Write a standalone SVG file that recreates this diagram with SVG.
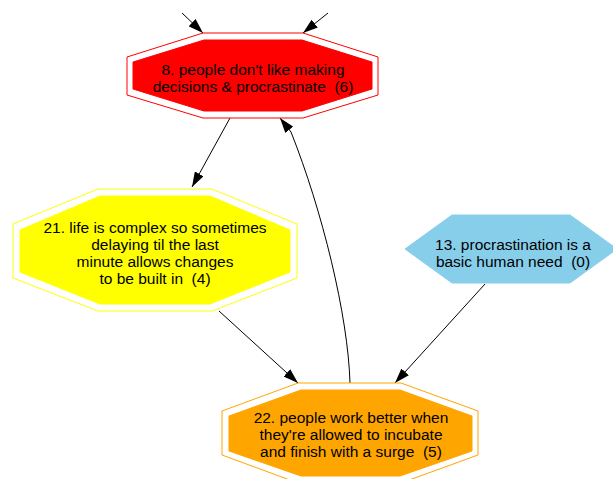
<svg xmlns="http://www.w3.org/2000/svg" width="613" height="479" viewBox="0 0 613 479">
  <style>
    .bg { fill: #ffffff; }
    .lbl { font-family: "Liberation Sans", Arial, sans-serif; font-size: 15.5px; fill: #000000; text-anchor: middle; }
    .edge { fill: none; stroke: #000000; stroke-width: 1; marker-end: url(#arrow); }
    .ring { fill: none; stroke-width: 1; }
  </style>
  <defs>
    <marker id="arrow" markerUnits="userSpaceOnUse" markerWidth="15" markerHeight="10" refX="15" refY="5" orient="auto">
      <path d="M0,0 L15,5 L0,10 Z" fill="#000000"/>
    </marker>
  </defs>

  <rect class="bg" x="0" y="0" width="613" height="479"/>

  <!-- connectors -->
  <g id="edges">
    <path class="edge" d="M182,13 L203,33"/>
    <path class="edge" d="M328,13 L303,33"/>
    <path class="edge" d="M230,118 L192,187"/>
    <path class="edge" d="M219,311 L298,383"/>
    <path class="edge" d="M485,284 L395,383"/>
    <path class="edge" d="M350,383 C348,315 322,210 291,132 L280,118"/>
  </g>

  <!-- node 8 -->
  <g id="node8">
    <polygon class="ring" stroke="#ff0000" points="203,33 303,33 378,57 378,95 303,118 203,118 127,95 127,57"/>
    <polygon fill="#ff0000" stroke="#ff0000" points="204,40 302,40 372,62 372,89 302,111 204,111 133,89 133,62"/>
    <text class="lbl" x="253" y="75">8. people don't like making</text>
    <text class="lbl" x="253" y="92">decisions &amp; procrastinate&#160; (6)</text>
  </g>

  <!-- node 21 -->
  <g id="node21">
    <polygon class="ring" stroke="#ffff00" points="98,189 212,189 297,224 297,278 212,311 98,311 13,278 13,224"/>
    <polygon fill="#ffff00" stroke="#ffff00" points="100,196 210,196 290,230 290,272 210,304 100,304 20,272 20,230"/>
    <text class="lbl" x="155" y="233">21. life is complex so sometimes</text>
    <text class="lbl" x="155" y="250">delaying til the last</text>
    <text class="lbl" x="155" y="267">minute allows changes</text>
    <text class="lbl" x="155" y="284">to be built in&#160; (4)</text>
  </g>

  <!-- node 13 -->
  <g id="node13">
    <polygon fill="#87ceeb" stroke="#87ceeb" points="452,215 570,215 617,249 570,283 452,283 405,249"/>
    <text class="lbl" x="513" y="250">13. procrastination is a</text>
    <text class="lbl" x="513" y="267">basic human need&#160; (0)</text>
  </g>

  <!-- node 22 -->
  <g id="node22">
    <polygon class="ring" stroke="#ffa500" points="298,383 401,383 478,411 478,455 401,483 298,483 222,455 222,411"/>
    <polygon fill="#ffa500" stroke="#ffa500" points="301,390 400,390 472,416 472,451 400,476 301,476 229,451 229,416"/>
    <text class="lbl" x="351" y="423">22. people work better when</text>
    <text class="lbl" x="351" y="440">they're allowed to incubate</text>
    <text class="lbl" x="351" y="457">and finish with a surge&#160; (5)</text>
  </g>
</svg>
